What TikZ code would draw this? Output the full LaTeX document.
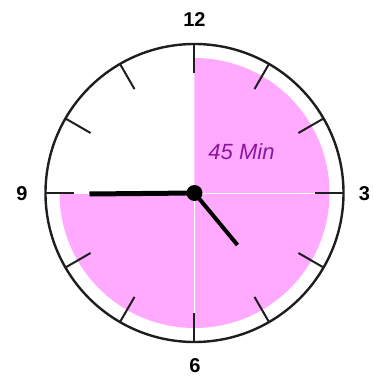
\documentclass[tikz,border=0pt]{standalone}
\usepackage{fontspec}
\setmainfont{Liberation Sans}
\definecolor{sectorpink}{RGB}{255,170,255}
\definecolor{labelpurple}{RGB}{138,22,160}
\definecolor{inkdark}{RGB}{30,30,30}
\begin{document}
\begin{tikzpicture}[x=1pt,y=1pt,
  tickmark/.style={draw=inkdark,line width=2pt},
  hourlabel/.style={font=\fontsize{20}{22}\selectfont\bfseries,text=black},
  handstyle/.style={draw=black,line cap=butt}]
\useasboundingbox (-194.5,-187) rectangle (177.5,193);
% pink 45-minute sector
\fill[sectorpink] (0,0) -- (90:135) arc[start angle=90,end angle=-180,radius=135] -- cycle;
\draw[white,line width=0.9pt] (-135,0) -- (135,0);
\draw[white,line width=0.9pt] (0,0) -- (0,-135);
% dial
\node[circle,draw=inkdark,line width=2.4pt,minimum size=298pt,inner sep=0pt] (dial) at (0,0) {};
\foreach \i in {0,...,11}{
  \draw[tickmark] (90-30*\i:149) -- (90-30*\i:120);
}
% labels
\node[hourlabel] (n12) at (0,173) {12};
\node[hourlabel] (n3) at (170,-0.5) {3};
\node[hourlabel] (n6) at (0.5,-173) {6};
\node[hourlabel] (n9) at (-172.5,-0.5) {9};
\node[text=labelpurple,font=\fontsize{22}{24}\selectfont\itshape] (lbl) at (47,41) {45 Min};
% hands
\coordinate (ctr) at (0,0);
\coordinate (mtip) at (-105,-1);
\coordinate (htip) at (43,-52);
\draw[handstyle,line width=5pt] (ctr) -- (mtip);
\draw[handstyle,line width=4pt] (ctr) -- (htip);
\node[circle,fill=black,minimum size=16pt,inner sep=0pt] (hub) at (ctr) {};
\end{tikzpicture}
\end{document}
